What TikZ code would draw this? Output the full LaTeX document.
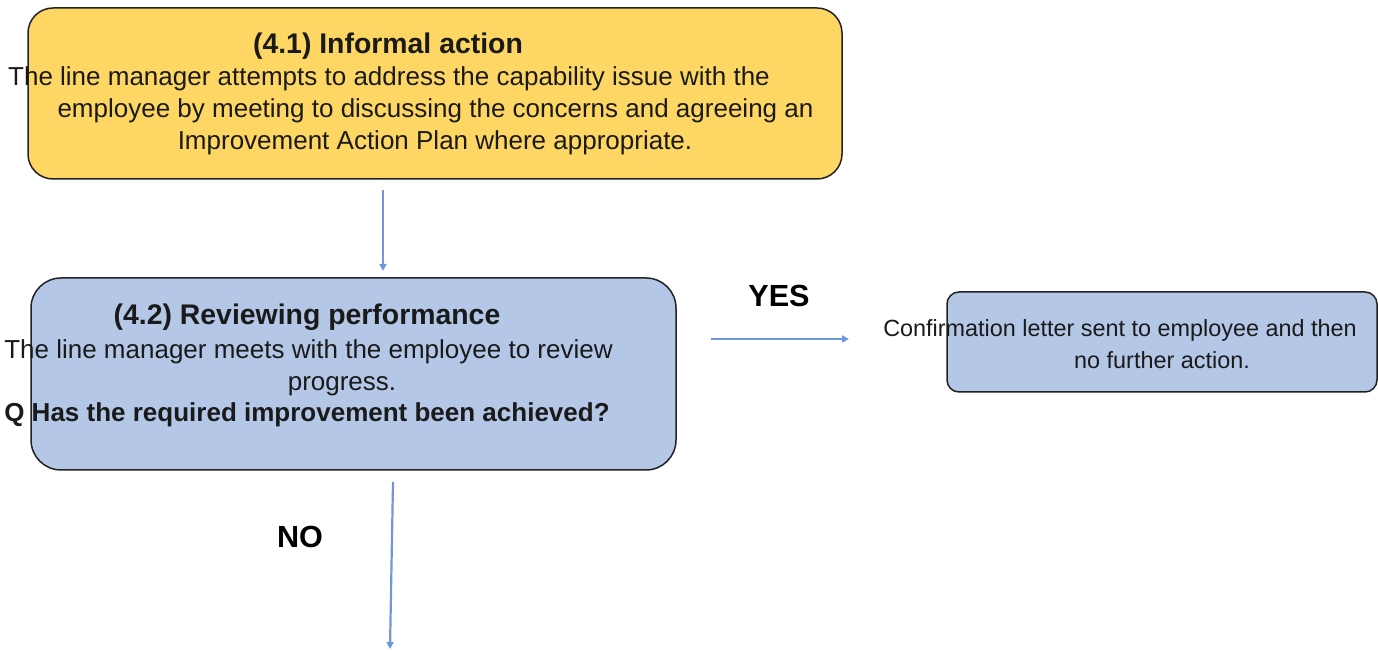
\documentclass[tikz,border=0pt]{standalone}
\usepackage{fontspec}
\setmainfont{Liberation Sans}
\usetikzlibrary{arrows.meta}
\definecolor{yel}{HTML}{FDD663}
\definecolor{blu}{HTML}{B4C7E7}
\definecolor{arr}{HTML}{6F98DC}
\definecolor{bord}{HTML}{222222}
\definecolor{txtc}{HTML}{1A1A1A}
\begin{document}
\begin{tikzpicture}[x=0.5pt,y=-0.5pt,
  box/.style={draw=bord,line width=0.75pt},
  body/.style={inner sep=0pt,anchor=base,text=txtc,font=\fontsize{13}{15}\selectfont},
  small/.style={inner sep=0pt,anchor=base,text=txtc,font=\fontsize{11.7}{14}\selectfont},
  ttl/.style={inner sep=0pt,anchor=base,text=txtc,font=\fontsize{14.2}{16}\selectfont\bfseries},
  lbl/.style={inner sep=0pt,anchor=base,text=black,font=\fontsize{15.3}{17}\selectfont\bfseries},
  conn/.style={draw=arr,line width=1.1pt,-{Triangle[length=3.5pt,width=3.5pt]}}]
\useasboundingbox (0,0) rectangle (1378,651);
% boxes
\draw[box,fill=yel,rounded corners=12.5pt] (28,8) rectangle (842,179);
\draw[box,fill=blu,rounded corners=15pt] (31,278) rectangle (676,470);
\draw[box,fill=blu,rounded corners=6pt] (947,292) rectangle (1377,392);
% box 1 text
\node[ttl] (t1) at (388,54) {(4.1) Informal action};
\node[body] (b1a) at (389,85.5) {The line manager attempts to address the capability issue with the};
\node[body] (b1b) at (435.5,117.5) {employee by meeting to discussing the concerns and agreeing an};
\node[body] (b1c) at (435,150) {Improvement Action Plan where appropriate.};
% box 2 text
\node[ttl] (t2) at (307,325) {(4.2) Reviewing performance};
\node[body] (b2a) at (308.5,358.3) {The line manager meets with the employee to review};
\node[body] (b2b) at (342,390.5) {progress.};
\node[body,font=\fontsize{13}{15}\selectfont\bfseries] (b2c) at (307,421.5) {Q Has the required improvement been achieved?};
% box 3 text
\node[small] (b3a) at (1120,336.7) {Confirmation letter sent to employee and then};
\node[small] (b3b) at (1162,368.5) {no further action.};
% labels
\node[lbl] (yes) at (779,306.7) {YES};
\node[lbl] (no) at (300,547.5) {NO};
% connectors
\coordinate (a1s) at (383,190);
\coordinate (a1e) at (383,271);
\coordinate (a2s) at (711,339);
\coordinate (a2e) at (849,339);
\coordinate (a3s) at (393,482);
\coordinate (a3e) at (390,649);
\draw[conn] (a1s) -- (a1e);
\draw[conn] (a2s) -- (a2e);
\draw[conn] (a3s) -- (a3e);
\end{tikzpicture}
\end{document}
